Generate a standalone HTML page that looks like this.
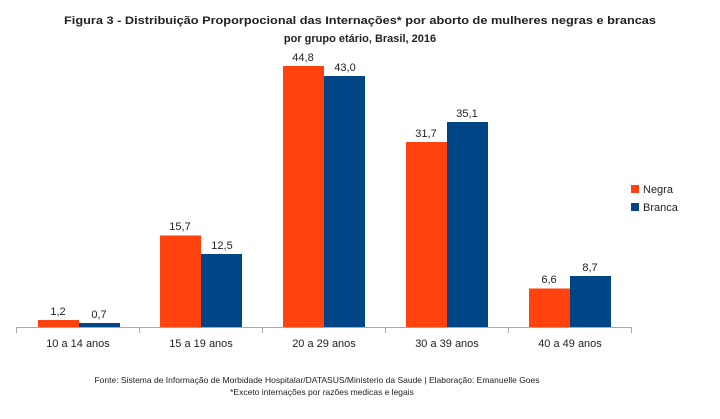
<!DOCTYPE html>
<html><head><meta charset="utf-8"><style>body{margin:0;background:#fff}svg{display:block}</style></head>
<body>
<svg width="720" height="419" viewBox="0 0 720 419" xmlns="http://www.w3.org/2000/svg" font-family="Liberation Sans, sans-serif">
<rect width="720" height="419" fill="#fff"/>
<text x="360" y="24" text-anchor="middle" font-size="11" font-weight="bold" fill="#222" textLength="592" lengthAdjust="spacingAndGlyphs">Figura 3 - Distribuição Proporpocional das Internações* por aborto de mulheres negras e brancas</text>
<text x="360" y="42" text-anchor="middle" font-size="11" font-weight="bold" fill="#222">por grupo etário, Brasil, 2016</text>
<g fill="#ff420e">
<rect x="38" y="320" width="41" height="7"/>
<rect x="160" y="235.5" width="41" height="91.5"/>
<rect x="283" y="66" width="41" height="261"/>
<rect x="406" y="142" width="41" height="185"/>
<rect x="529" y="288.5" width="41" height="38.5"/>
</g>
<g fill="#004586">
<rect x="79" y="323" width="41" height="4"/>
<rect x="201" y="254" width="41" height="73"/>
<rect x="324" y="76" width="41" height="251"/>
<rect x="447" y="122" width="41" height="205"/>
<rect x="570" y="276" width="41" height="51"/>
</g>
<g stroke="#aaa" stroke-width="1">
<line x1="16" y1="327.5" x2="632" y2="327.5"/>
<line x1="16.5" y1="327" x2="16.5" y2="333"/>
<line x1="139.5" y1="327" x2="139.5" y2="333"/>
<line x1="262.5" y1="327" x2="262.5" y2="333"/>
<line x1="385.5" y1="327" x2="385.5" y2="333"/>
<line x1="508.5" y1="327" x2="508.5" y2="333"/>
<line x1="631.5" y1="327" x2="631.5" y2="333"/>
</g>
<g font-size="11" fill="#222" text-anchor="middle">
<text x="58" y="315">1,2</text><text x="99" y="318">0,7</text>
<text x="180" y="230">15,7</text><text x="222" y="249">12,5</text>
<text x="303" y="61">44,8</text><text x="345" y="71">43,0</text>
<text x="426" y="137">31,7</text><text x="467" y="117">35,1</text>
<text x="549" y="283">6,6</text><text x="590" y="271">8,7</text>
<text x="78" y="347">10 a 14 anos</text>
<text x="201" y="347">15 a 19 anos</text>
<text x="324" y="347">20 a 29 anos</text>
<text x="447" y="347">30 a 39 anos</text>
<text x="570" y="347">40 a 49 anos</text>
</g>
<rect x="631" y="185" width="8" height="8" fill="#ff420e"/>
<rect x="631" y="203" width="8" height="8" fill="#004586"/>
<text x="643" y="193" font-size="11" fill="#222">Negra</text>
<text x="643" y="211" font-size="11" fill="#222">Branca</text>
<text x="317" y="383" text-anchor="middle" font-size="8.5" fill="#222">Fonte: Sistema de Informação de Morbidade Hospitalar/DATASUS/Ministerio da Saude | Elaboração: Emanuelle Goes</text>
<text x="322" y="395" text-anchor="middle" font-size="8.5" fill="#222">*Exceto internações por razões medicas  e legais</text>
</svg>
</body></html>
